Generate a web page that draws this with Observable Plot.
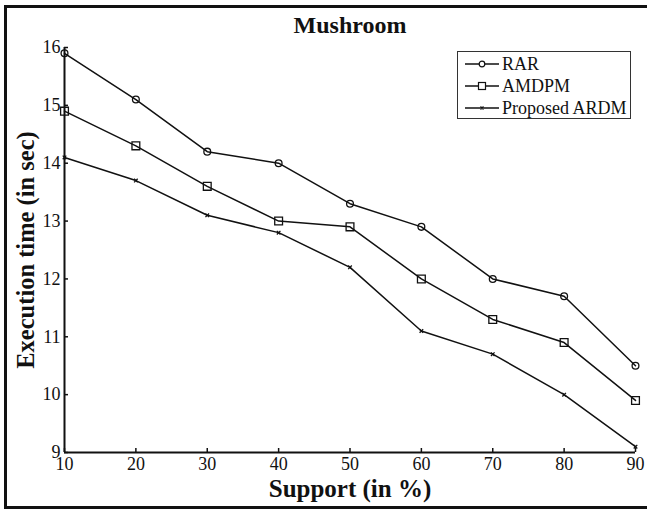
<!DOCTYPE html>
<html>
<head>
<meta charset="utf-8">
<script src="https://cdn.jsdelivr.net/npm/d3@7"></script>
<script src="https://cdn.jsdelivr.net/npm/@observablehq/plot@0.6"></script>
<style>
  html, body { margin: 0; padding: 0; background: #fff; overflow: hidden; }
  #wrap { position: relative; width: 647px; height: 509px; overflow: hidden; font-family: "Liberation Serif", "Times New Roman", serif; }
  #frame { position: absolute; left: 4px; top: 5px; width: 640px; height: 498px; border: 3px solid #111; border-right: none; box-sizing: content-box; pointer-events: none; }
  #legend { position: absolute; left: 457px; top: 51px; width: 172px; height: 66px; border: 1px solid #333; background: #fff; font-size: 18px; color: #111; }
  .item { position: absolute; left: 6px; height: 22px; display: flex; align-items: center; }
  .item svg { display: block; }
  .item span { margin-left: 2px; line-height: 22px; }
</style>
</head>
<body>
<div id="wrap"></div>
<script>
const support = [10, 20, 30, 40, 50, 60, 70, 80, 90];
const rar = [15.9, 15.1, 14.2, 14.0, 13.3, 12.9, 12.0, 11.7, 10.5];
const amdpm = [14.9, 14.3, 13.6, 13.0, 12.9, 12.0, 11.3, 10.9, 9.9];
const ardm = [14.1, 13.7, 13.1, 12.8, 12.2, 11.1, 10.7, 10.0, 9.1];
const seriesNames = ["RAR", "AMDPM", "Proposed ARDM"];
const xTicks = [10, 20, 30, 40, 50, 60, 70, 80, 90];
const yTicks = [9, 10, 11, 12, 13, 14, 15, 16];
const chartTitle = "Mushroom";
const xTitle = "Support (in %)";
const yTitle = "Execution time (in sec)";

const toRows = (vals) => support.map((s, i) => ({x: s, y: vals[i]}));
const rRows = toRows(rar), aRows = toRows(amdpm), pRows = toRows(ardm);
const ink = "#111";

const chart = Plot.plot({
  width: 647,
  height: 509,
  marginLeft: 64,
  marginRight: 12,
  marginTop: 47,
  marginBottom: 57,
  style: {fontFamily: '"Liberation Serif", "Times New Roman", serif', background: "transparent", color: ink},
  x: {domain: [10, 90]},
  y: {domain: [9, 16]},
  marks: [
    Plot.axisX({ticks: xTicks, tickFormat: d => String(d), tickSize: -4, tickPadding: 9, fontSize: 18, label: null, strokeWidth: 1.5}),
    Plot.axisY({ticks: yTicks, tickFormat: d => String(d), tickSize: -4, tickPadding: 8, fontSize: 18, label: null, strokeWidth: 1.5}),
    Plot.ruleX([10], {stroke: ink, strokeWidth: 2}),
    Plot.ruleY([9], {stroke: ink, strokeWidth: 2}),
    Plot.line(rRows, {x: "x", y: "y", stroke: ink, strokeWidth: 1.5}),
    Plot.line(aRows, {x: "x", y: "y", stroke: ink, strokeWidth: 1.5}),
    Plot.line(pRows, {x: "x", y: "y", stroke: ink, strokeWidth: 1.5}),
    Plot.dot(rRows, {x: "x", y: "y", r: 3.4, stroke: ink, strokeWidth: 1.3, fill: "none"}),
    Plot.dot(aRows, {x: "x", y: "y", symbol: "square", r: 4.4, stroke: ink, strokeWidth: 1.3, fill: "none"}),
    Plot.dot(pRows, {x: "x", y: "y", symbol: "times", r: 1.8, stroke: ink, strokeWidth: 1.3}),
    Plot.text([chartTitle], {frameAnchor: "top", dy: -15, text: d => d, fontSize: 24, fontWeight: "bold", lineAnchor: "bottom", fill: ink}),
    Plot.text([xTitle], {frameAnchor: "bottom", dy: 44, text: d => d, fontSize: 25, fontWeight: "bold", lineAnchor: "bottom", fill: ink}),
    Plot.text([yTitle], {frameAnchor: "left", dx: -31, rotate: -90, textAnchor: "middle", text: d => d, fontSize: 24.5, fontWeight: "bold", lineAnchor: "bottom", fill: ink})
  ]
});

const wrap = document.getElementById("wrap");
wrap.appendChild(chart);

const legend = document.createElement("div");
legend.id = "legend";
const swatch = (kind) => {
  const ns = "http://www.w3.org/2000/svg";
  const svg = document.createElementNS(ns, "svg");
  svg.setAttribute("width", 36); svg.setAttribute("height", 22);
  const line = document.createElementNS(ns, "line");
  line.setAttribute("x1", 1); line.setAttribute("x2", 35); line.setAttribute("y1", 11); line.setAttribute("y2", 11);
  line.setAttribute("stroke", ink); line.setAttribute("stroke-width", 1.5);
  svg.appendChild(line);
  let m;
  if (kind === 0) {
    m = document.createElementNS(ns, "circle");
    m.setAttribute("cx", 18); m.setAttribute("cy", 11); m.setAttribute("r", 2.8);
  } else if (kind === 1) {
    m = document.createElementNS(ns, "rect");
    m.setAttribute("x", 14.5); m.setAttribute("y", 7.5); m.setAttribute("width", 7); m.setAttribute("height", 7);
  } else {
    m = document.createElementNS(ns, "path");
    m.setAttribute("d", "M16.5,9.5L19.5,12.5M19.5,9.5L16.5,12.5");
  }
  m.setAttribute("fill", "white"); m.setAttribute("stroke", ink); m.setAttribute("stroke-width", 1.2);
  svg.appendChild(m);
  return svg;
};
seriesNames.forEach((name, i) => {
  const it = document.createElement("div");
  it.className = "item";
  it.style.top = (1 + i * 22) + "px";
  it.appendChild(swatch(i));
  const sp = document.createElement("span");
  sp.textContent = name;
  it.appendChild(sp);
  legend.appendChild(it);
});
wrap.appendChild(legend);

const frame = document.createElement("div");
frame.id = "frame";
wrap.appendChild(frame);
</script>
</body>
</html>
